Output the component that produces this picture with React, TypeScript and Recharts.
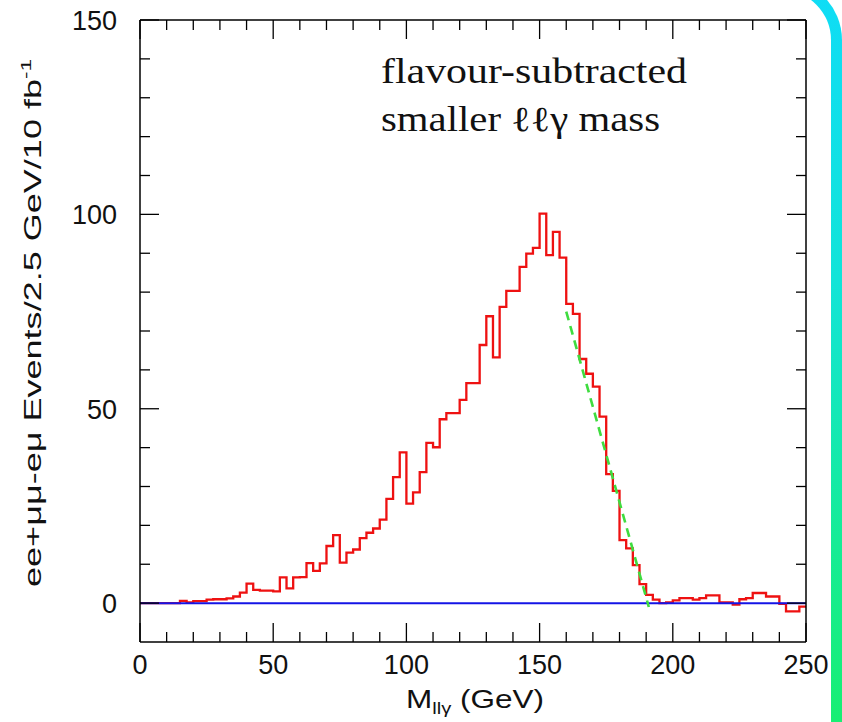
import React from 'react';
import { LineChart, Line, XAxis, YAxis, ReferenceLine } from 'recharts';

const BIN_WIDTH = 2.5;

// flavour-subtracted events per 2.5 GeV bin, from 0 to 250 GeV
const eventCounts = [
  0, 0, 0, 0, 0, 0, 0.6, 0.2, 0.5, 0.5,
  0.9, 1.0, 1.0, 1.2, 1.7, 2.7, 5.0, 3.4, 3.2, 3.2,
  3.0, 6.6, 3.8, 6.6, 6.7, 10.3, 8.3, 10.2, 14.7, 17.5,
  10.4, 13.0, 13.8, 16.7, 18.1, 19.2, 21.5, 26.8, 32.4, 38.8,
  25.6, 28.5, 33.7, 41.2, 40.1, 47.3, 48.9, 48.9, 52.3, 56.6,
  56.6, 66.4, 73.8, 63.2, 76.2, 80.3, 80.3, 86.5, 89.9, 91.4,
  100.2, 89.5, 95.5, 88.9, 77.0, 74.4, 62.8, 59.0, 55.7, 48.0,
  33.2, 28.9, 16.2, 14.1, 9.8, 4.9, 2.1, 0.9, 0, 0.2,
  0.7, 1.3, 1.3, 0.9, 1.3, 2.0, 2.0, 0.2, 0.2, -0.4,
  1.0, 1.3, 2.6, 2.6, 1.7, 1.7, -0.2, -2.1, -2.1, -0.9,
];

// endpoint fit (green dashed)
const fitMass = [160, 191];
const fitEvents = [75, -1];

const xTicks = [0, 10, 20, 30, 40, 50, 60, 70, 80, 90, 100, 110, 120, 130, 140, 150, 160, 170, 180, 190, 200, 210, 220, 230, 240, 250];
const yTicks = [0, 10, 20, 30, 40, 50, 60, 70, 80, 90, 100, 110, 120, 130, 140, 150];
const labelStep = 50;

// bin edges -> step line rows (last edge repeats final bin)
const histRows = eventCounts.map((n, i) => ({ m: i * BIN_WIDTH, n }));
histRows.push({ m: eventCounts.length * BIN_WIDTH, n: eventCounts[eventCounts.length - 1] });
const fitRows = fitMass.map((m, i) => ({ m, n: fitEvents[i] }));

const MINOR = 10;
const MAJOR = 19;
const sans = '"Liberation Sans", Arial, sans-serif';
const serif = '"Liberation Serif", "Times New Roman", serif';
const tickFont = { fontFamily: sans, fontSize: 27, fill: '#111' };

const tickLen = (v: number) => (v % labelStep === 0 ? MAJOR : MINOR);

const BottomTick = ({ x, y, payload }: any) => {
  const v = payload.value;
  return (
    <g>
      <line x1={x} y1={y} x2={x} y2={y - tickLen(v)} stroke="#000" strokeWidth={1.3} />
      {v % labelStep === 0 && (
        <text x={x} y={y + 32} textAnchor="middle" {...tickFont}>{v}</text>
      )}
    </g>
  );
};

const TopTick = ({ x, y, payload }: any) => (
  <line x1={x} y1={y} x2={x} y2={y + tickLen(payload.value)} stroke="#000" strokeWidth={1.3} />
);

const LeftTick = ({ x, y, payload }: any) => {
  const v = payload.value;
  return (
    <g>
      <line x1={x} y1={y} x2={x + tickLen(v)} y2={y} stroke="#000" strokeWidth={1.3} />
      {v % labelStep === 0 && (
        <text x={x - 23} y={y + 10} textAnchor="end" {...tickFont}>{v}</text>
      )}
    </g>
  );
};

const RightTick = ({ x, y, payload }: any) => (
  <line x1={x} y1={y} x2={x - tickLen(payload.value)} y2={y} stroke="#000" strokeWidth={1.3} />
);

const XTitle = ({ viewBox }: any) => {
  const cx = viewBox.x + viewBox.width / 2 + 2;
  return (
    <text
      x={cx}
      y={viewBox.y + 66}
      textAnchor="middle"
      fontFamily={sans}
      fontSize={25}
      fill="#111"
      textLength={138}
      lengthAdjust="spacingAndGlyphs"
    >
      M<tspan fontSize={16} dy={6}>llγ</tspan>
      <tspan dy={-6}> (GeV)</tspan>
    </text>
  );
};

const YTitle = ({ viewBox }: any) => {
  const cx = 41;
  const cy = viewBox.y + viewBox.height / 2 - 8;
  return (
    <text
      x={cx}
      y={cy}
      transform={`rotate(-90 ${cx} ${cy})`}
      textAnchor="middle"
      fontFamily={sans}
      fontSize={24}
      fill="#111"
      textLength={528}
      lengthAdjust="spacingAndGlyphs"
    >
      ee+μμ-eμ Events/2.5 GeV/10 fb<tspan fontSize={15} dy={-10}>-1</tspan>
    </text>
  );
};

export default function App() {
  return (
    <div style={{ position: 'fixed', inset: 0, overflow: 'hidden', background: '#fff' }}>
      {/* slide frame on the right edge */}
      <div
        style={{
          position: 'absolute',
          left: 700,
          top: -21,
          width: 142,
          height: 750,
          borderTopRightRadius: 61,
          background: 'linear-gradient(to bottom, #0fdcf7 0%, #12e4d8 40%, #16ec96 75%, #18ef72 100%)',
        }}
      >
        <div
          style={{
            position: 'absolute',
            left: 0,
            top: 11,
            width: 131,
            height: 750,
            borderTopRightRadius: 50,
            background: '#fff',
          }}
        />
      </div>
      <div style={{ position: 'absolute', left: 0, top: 0 }}>
        <LineChart
          width={842}
          height={722}
          data={histRows}
          margin={{ top: 19, right: 35, left: 0, bottom: 0 }}
        >
          <XAxis
            xAxisId="x"
            dataKey="m"
            type="number"
            domain={[0, 250]}
            ticks={xTicks}
            interval={0}
            height={80}
            tickLine={false}
            tickSize={0}
            tickMargin={0}
            tick={<BottomTick />}
            axisLine={{ stroke: '#000', strokeWidth: 1.5 }}
            label={<XTitle />}
          />
          <XAxis
            xAxisId="xt"
            orientation="top"
            dataKey="m"
            type="number"
            domain={[0, 250]}
            ticks={xTicks}
            interval={0}
            height={1}
            tickLine={false}
            tickSize={0}
            tickMargin={0}
            tick={<TopTick />}
            axisLine={{ stroke: '#000', strokeWidth: 1.5 }}
          />
          <YAxis
            yAxisId="y"
            type="number"
            domain={[-10, 150]}
            ticks={yTicks}
            interval={0}
            width={140}
            tickLine={false}
            tickSize={0}
            tickMargin={0}
            tick={<LeftTick />}
            axisLine={{ stroke: '#000', strokeWidth: 1.5 }}
            label={<YTitle />}
          />
          <YAxis
            yAxisId="yr"
            orientation="right"
            type="number"
            domain={[-10, 150]}
            ticks={yTicks}
            interval={0}
            width={1}
            tickLine={false}
            tickSize={0}
            tickMargin={0}
            tick={<RightTick />}
            axisLine={{ stroke: '#000', strokeWidth: 1.5 }}
          />
          <Line
            xAxisId="xt"
            yAxisId="yr"
            dataKey="n"
            stroke="none"
            dot={false}
            isAnimationActive={false}
          />
          <Line
            xAxisId="x"
            yAxisId="y"
            type="stepAfter"
            dataKey="n"
            stroke="#ee1111"
            strokeWidth={2.3}
            dot={false}
            isAnimationActive={false}
          />
          <ReferenceLine xAxisId="x" yAxisId="y" y={0} stroke="#1414e6" strokeWidth={2} />
          <Line
            xAxisId="x"
            yAxisId="y"
            data={fitRows}
            dataKey="n"
            stroke="#3fdc3f"
            strokeWidth={2.6}
            strokeDasharray="9 6"
            dot={false}
            isAnimationActive={false}
          />
          <text
            x={381}
            y={83}
            fontFamily={serif}
            fontSize={35}
            fill="#111"
            textLength={306}
            lengthAdjust="spacingAndGlyphs"
          >
            flavour-subtracted
          </text>
          <text
            x={381}
            y={131}
            fontFamily={serif}
            fontSize={35}
            fill="#111"
            textLength={279}
            lengthAdjust="spacingAndGlyphs"
          >
            smaller ℓℓγ mass
          </text>
        </LineChart>
      </div>
    </div>
  );
}
